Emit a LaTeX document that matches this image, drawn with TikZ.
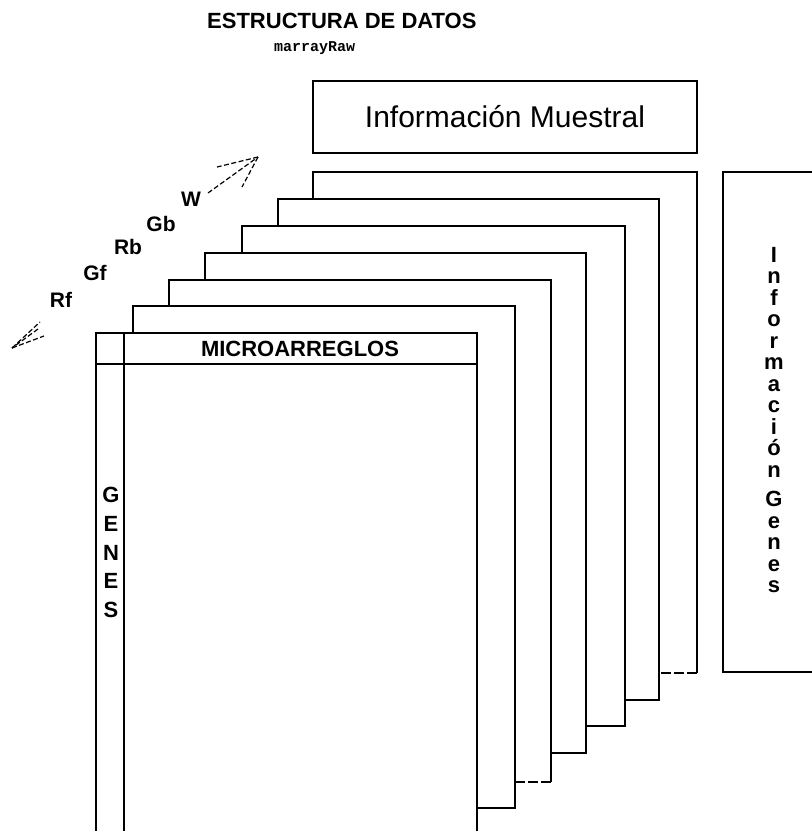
\documentclass[tikz,border=0pt]{standalone}
\usepackage{fontspec}
\setmainfont{Liberation Sans}
\setmonofont{Liberation Mono}

\begin{document}
\begin{tikzpicture}[x=1pt, y=-1pt,
    sheet/.style={line width=1.5pt},
    brokenline/.style={line width=1.5pt, dash pattern=on 10pt off 3pt},
    pointer/.style={line width=1.2pt, dash pattern=on 5pt off 2.5pt},
    lbl/.style={inner sep=0pt, font=\bfseries\fontsize{21}{21}\selectfont}]
  \useasboundingbox (0,0) rectangle (812,831);

  % Title
  \node[anchor=west, inner sep=0pt, font=\bfseries\fontsize{22}{22}\selectfont] (title) at (207,21) {ESTRUCTURA DE DATOS};
  \node[anchor=west, inner sep=0pt, font=\ttfamily\bfseries\fontsize{15}{15}\selectfont] (rawname) at (274,48) {marrayRaw};

  % Sample information box
  \draw[sheet] (313,81) rectangle (697,153);
  \node[inner sep=0pt, font=\fontsize{30}{30}\selectfont] (infomuestral) at (505,117) {Información Muestral};

  % Stacked sheets behind the front one
  \draw[sheet] (133,333) -- (133,306) -- (515,306) -- (515,808) -- (477,808);
  \draw[sheet] (169,306) -- (169,280) -- (551,280) -- (551,782);
  \draw[brokenline] (551,782) -- (515,782);
  \draw[sheet] (205,280) -- (205,253) -- (586,253) -- (586,753) -- (551,753);
  \draw[sheet] (242,253) -- (242,226) -- (625,226) -- (625,726) -- (586,726);
  \draw[sheet] (278,226) -- (278,199) -- (659,199) -- (659,700) -- (625,700);
  \draw[sheet] (313,199) -- (313,172) -- (697,172) -- (697,673);
  \draw[brokenline] (697,673) -- (659,673);

  % Front sheet
  \draw[sheet] (96,860) -- (96,333) -- (477,333) -- (477,860);
  \draw[sheet] (96,364) -- (477,364);
  \draw[sheet] (124,333) -- (124,860);
  \node[inner sep=0pt, font=\bfseries\fontsize{22}{22}\selectfont] (microhdr) at (300,349) {MICROARREGLOS};
  \node[anchor=north, inner sep=0pt, align=center, font=\bfseries\fontsize{22}{28.75}\selectfont] (genes) at (111,487) {G\\E\\N\\E\\S};

  % Gene information box
  \draw[sheet] (840,172) -- (723,172) -- (723,672) -- (840,672);
  \node[anchor=north, inner sep=0pt, align=center, font=\bfseries\fontsize{22}{21.5}\selectfont] (infogenes) at (774,247)
    {I\\n\\f\\o\\r\\m\\a\\c\\i\\ó\\n\\[8pt]G\\e\\n\\e\\s};

  % Channel labels along the depth axis
  \node[lbl] (lblRf) at (61,300) {Rf};
  \node[lbl] (lblGf) at (95,273) {Gf};
  \node[lbl] (lblRb) at (128,247) {Rb};
  \node[lbl] (lblGb) at (161,224) {Gb};
  \node[lbl] (lblW) at (191,199) {W};

  % Depth arrows
  \coordinate (uptip) at (258,157);
  \coordinate (uptail) at (208,193);
  \draw[pointer] (uptail) -- (uptip);
  \draw[pointer] (uptip) -- (217,167);
  \draw[pointer] (uptip) -- (242,187);

  \coordinate (downtip) at (12,348);
  \coordinate (downtail) at (38,329);
  \draw[pointer] (downtail) -- (downtip);
  \draw[pointer] (downtip) -- (40,322);
  \draw[pointer] (downtip) -- (44,336);
\end{tikzpicture}
\end{document}
